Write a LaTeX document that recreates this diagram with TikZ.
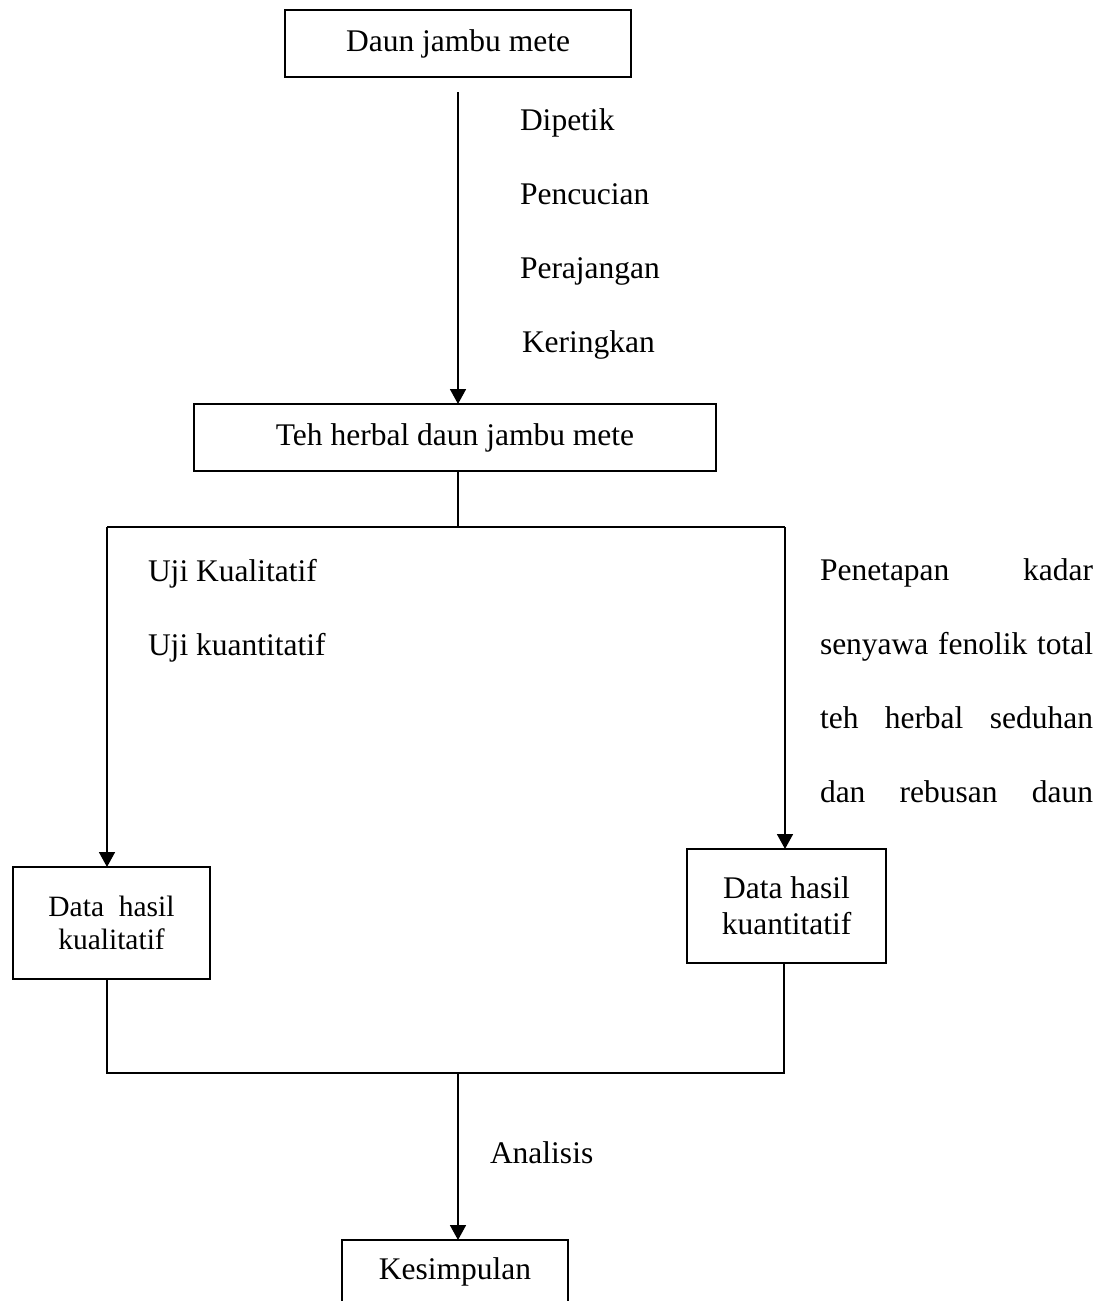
\documentclass[tikz,border=0pt]{standalone}
\usepackage{fontspec}
\setmainfont{Liberation Serif}
\usetikzlibrary{arrows.meta}
\begin{document}
\begin{tikzpicture}[x=1pt,y=-1pt,
  box/.style={draw,line width=2.4pt,inner sep=0pt,outer sep=0pt,align=center,font=\fontsize{31.5}{36}\selectfont},
  smallbox/.style={box,font=\fontsize{29.5}{33}\selectfont},
  conn/.style={line width=1.7pt},
  arr/.style={conn,-{Triangle[width=16pt,length=15pt]}},
  lbl/.style={anchor=base west,inner sep=0pt,outer sep=0pt,font=\fontsize{31.5}{36}\selectfont}]
\useasboundingbox (0,0) rectangle (1105,1301);
\clip (0,0) rectangle (1105,1301);
% boxes
\node[box,minimum width=346pt,minimum height=67pt] (b1) at (458,43.5) {Daun jambu mete};
\node[box,minimum width=522pt,minimum height=67pt] (b2) at (455,437.5) {Teh herbal daun jambu mete};
\node[smallbox,minimum width=197pt,minimum height=112pt] (b3) at (111.5,923) {Data\ \ hasil\\kualitatif};
\node[box,minimum width=199pt,minimum height=114pt] (b4) at (786.5,906) {Data hasil\\kuantitatif};
\node[box,minimum width=226pt,minimum height=64pt] (b5) at (455,1272) {Kesimpulan};
% junction points
\coordinate (split) at (458,527);
\coordinate (jl) at (107,527);
\coordinate (jr) at (785,527);
\coordinate (ml) at (107,1073);
\coordinate (mr) at (784,1073);
\coordinate (mm) at (458,1073);
% connectors
\draw[arr,shorten <=15pt] (b1.south) -- (b1.south |- b2.north);
\draw[conn] (b2.south -| split) -- (split);
\draw[conn] (jl) -- (jr);
\draw[arr] (jl) -- (b3.north -| jl);
\draw[arr] (jr) -- (b4.north -| jr);
\draw[conn,line join=miter] (b3.south -| ml) -- (ml) -- (mr) -- (b4.south -| mr);
\draw[arr] (mm) -- (b5.north -| mm);
% labels
\node[lbl] (t1) at (520,130) {Dipetik};
\node[lbl] (t2) at (520,204) {Pencucian};
\node[lbl] (t3) at (520,278) {Perajangan};
\node[lbl] (t4) at (522,352) {Keringkan};
\node[lbl] (u1) at (148,581) {Uji Kualitatif};
\node[lbl] (u2) at (148,655) {Uji kuantitatif};
\node[lbl] (p1) at (820,580) {\makebox[273pt][s]{Penetapan kadar}};
\node[lbl] (p2) at (820,654) {\makebox[273pt][s]{senyawa fenolik total}};
\node[lbl] (p3) at (820,728) {\makebox[273pt][s]{teh herbal seduhan}};
\node[lbl] (p4) at (820,802) {\makebox[273pt][s]{dan rebusan daun}};
\node[lbl] (an) at (490,1163) {Analisis};
\end{tikzpicture}
\end{document}
